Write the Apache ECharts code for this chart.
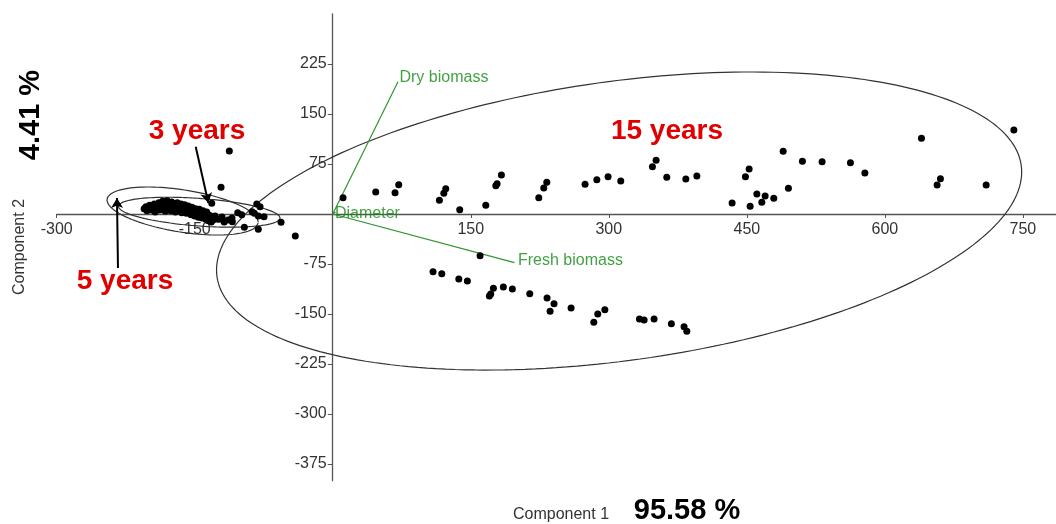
<!DOCTYPE html>
<html>
<head>
<meta charset="utf-8">
<script src="https://cdn.jsdelivr.net/npm/echarts@6/dist/echarts.min.js"></script>
<style>
html,body{margin:0;padding:0;background:#fff;}
#chart{width:1056px;height:524px;}
</style>
</head>
<body>
<div id="chart"></div>
<script>
// ---- tick labels ----
const xTicks = [-300, -150, 150, 300, 450, 600, 750];
const yTicks = [-375, -300, -225, -150, -75, 75, 150, 225];

// ---- scores: 3 and 5 year trees (dense cluster) ----
const youngScores = [
  [-205,8],[-203,11],[-202,5],[-200,9],[-199,13],[-197,6],[-196,11],[-194,15],[-193,3],[-192,9],
  [-190,13],[-189,17],[-188,6],[-187,11],[-185,19],[-184,15],[-183,8],[-182,4],[-181,12],[-180,20],
  [-179,16],[-178,9],[-177,13],[-176,5],[-175,18],[-174,11],[-173,15],[-172,7],[-171,3],[-170,13],
  [-169,17],[-168,9],[-167,5],[-166,12],[-165,15],[-164,2],[-163,8],[-162,11],[-161,14],[-160,5],
  [-159,1],[-158,9],[-157,12],[-156,4],[-155,7],[-154,-1],[-153,10],[-152,3],[-151,6],[-150,-3],
  [-149,8],[-148,1],[-147,4],[-146,-5],[-145,7],[-144,-1],[-143,2],[-142,-6],[-141,5],[-140,-3],
  [-139,0],[-138,-8],[-137,3],[-136,-5],[-135,-10],[-134,-2],[-133,-7],[-132,-12],[-131,-4],[-130,-9],
  [-131.5,16],[-127.9,-3],[-125.7,-7.5],[-123.6,-8],[-120.3,-4.5],[-118,-12],[-113.8,-9],[-109.5,-6],
  [-109.1,-11.5],[-103.3,2],[-98.9,-1],[-96.1,-20],[-121.4,40],[-112.4,94.5],
  [-82.6,15],[-79,11],[-87.7,3.5],[-85.2,1],[-80.9,-3],[-74.7,-4],[-80.9,-23],[-56.2,-12.5],[-40.7,-33]
];

// ---- scores: 15 year trees ----
const oldScores = [
  [11.2,24.5],[46.7,33],[67.7,32],[71.7,44],[115.9,20.5],[120.7,31],[122.8,38],[138,6.5],[166.3,13],
  [177.2,42.5],[178.6,45.5],[183.3,58.5],[223.9,24.5],[229.3,39],[232.6,47.5],[274.2,44.5],[287,51.5],
  [299.2,56],[313,49.5],[347.4,71],[351.4,80.5],[363,55],[383.7,52.5],[395.7,57],[434,16.5],[448.5,56],
  [452.5,67.5],[453.6,11.5],[460.9,30],[466.3,17.5],[469.9,27],[479.3,23.5],[489.5,94],[495.2,38.5],
  [510.4,79],[531.8,78.5],[562.6,77],[578.3,61.5],[639.8,113.5],[656.8,43.5],[660.4,53],[710.1,43.5],
  [740.2,126],
  [160.1,-62.5],[109,-86.5],[118.5,-89.5],[137,-97.5],[146.3,-100.5],[170.2,-123],[171.7,-120],
  [174.6,-111.5],[185.4,-109.5],[195.2,-112.5],[214.1,-119.5],[232.9,-126],[236.2,-146],[240.5,-134.5],
  [259,-141],[283.7,-162.5],[288,-150],[295.7,-143.5],[333.3,-157.5],[338.4,-159],[349.2,-157.5],
  [368,-164.5],[381.8,-169],[384.8,-176]
];

// ---- loadings (biplot vectors) ----
const loadingNames = ['Dry biomass', 'Fresh biomass', 'Diameter'];
const loadingX = [70.9, 197.5, 3];
const loadingY = [198.5, -73, 3];

// ---- group ellipses: centre x, centre y, x-radius, y-shear, y-radius ----
const ellipse15 = [311.2, -10.5, 437.5, 73.5, 211.1];
const ellipse5  = [-163.2, 4.5, 82.1, -16.5, 32.0];
const ellipse3  = [-145.1, 2.7, 87.9, -8.7, 20.7];

function ellipsePts(e) {
  const pts = [];
  const n = 240;
  for (let i = 0; i <= n; i++) {
    const t = 2 * Math.PI * i / n;
    pts.push([e[0] + e[2] * Math.cos(t), e[1] + e[3] * Math.cos(t) + e[4] * Math.sin(t)]);
  }
  return pts;
}

const FONT = '"Liberation Sans", Arial, sans-serif';
const GREEN_LINE = '#2f962f';
const GREEN_TEXT = '#138a13';
const RED = '#e00000';

// plot frame (pixels) and axis ranges
const GRID = {left: 56.7, right: 0, top: 14, bottom: 43.3};
const X_MIN = -300, X_MAX = 786, Y_MIN = -400, Y_MAX = 300;
const plotW = 1056 - GRID.left - GRID.right;
const plotH = 524 - GRID.top - GRID.bottom;
// shift axes so they cross at zero
const xAxisOffset = -plotH * (0 - Y_MIN) / (Y_MAX - Y_MIN);
const yAxisOffset = -plotW * (0 - X_MIN) / (X_MAX - X_MIN);

const chart = echarts.init(document.getElementById('chart'), null, {renderer: 'canvas'});

const ellipseSeries = [ellipse15, ellipse5, ellipse3].map(e => ({
  type: 'line',
  data: ellipsePts(e),
  showSymbol: false,
  symbol: 'none',
  smooth: false,
  silent: true,
  z: 2,
  lineStyle: {color: '#333', width: 1.2}
}));

const vectorSeries = loadingNames.map((n, i) => ({
  type: 'line',
  data: [[0, 0], [loadingX[i], loadingY[i]]],
  symbol: 'none',
  silent: true,
  z: 3,
  lineStyle: {color: GREEN_LINE, width: 1.2}
}));

const labelOffsets = [[-2, -4], [0, -2], [-4, 2]];

chart.setOption({
  animation: false,
  backgroundColor: '#fff',
  grid: {left: GRID.left, right: GRID.right, top: GRID.top, bottom: GRID.bottom, containLabel: false, outerBoundsMode: 'none'},
  xAxis: {
    type: 'value', min: X_MIN, max: X_MAX, position: 'bottom', offset: xAxisOffset,
    axisLine: {onZero: false, lineStyle: {color: '#555', width: 1.3}},
    axisTick: {show: true, length: 4, customValues: xTicks, lineStyle: {color: '#555'}},
    axisLabel: {customValues: xTicks, margin: 8, color: '#333', fontSize: 16, fontFamily: FONT},
    splitLine: {show: false}
  },
  yAxis: {
    type: 'value', min: Y_MIN, max: Y_MAX, position: 'left', offset: yAxisOffset,
    axisLine: {onZero: false, lineStyle: {color: '#555', width: 1.3}},
    axisTick: {show: true, length: 5, customValues: yTicks, lineStyle: {color: '#555'}},
    axisLabel: {customValues: yTicks, margin: 6, color: '#333', fontSize: 16, fontFamily: FONT},
    splitLine: {show: false}
  },
  series: [
    ...ellipseSeries,
    ...vectorSeries,
    {
      type: 'scatter',
      data: loadingNames.map((n, i) => ({
        value: [loadingX[i], loadingY[i]],
        label: {show: true, position: 'right', distance: 3, offset: labelOffsets[i], formatter: n}
      })),
      symbolSize: 1,
      itemStyle: {color: 'rgba(0,0,0,0)'},
      label: {color: GREEN_TEXT, fontSize: 16, fontFamily: FONT},
      silent: true,
      z: 4
    },
    {
      type: 'scatter', name: '3 and 5 years', data: youngScores, symbolSize: 7,
      itemStyle: {color: '#000', opacity: 1}, z: 5
    },
    {
      type: 'scatter', name: '15 years', data: oldScores, symbolSize: 7,
      itemStyle: {color: '#000', opacity: 1}, z: 5
    },
    {
      type: 'line', data: [], z: 6,
      markLine: {
        silent: true,
        symbol: ['none', 'arrow'],
        symbolSize: [9, 10],
        label: {show: false},
        lineStyle: {color: '#000', width: 2, type: 'solid'},
        data: [
          [{coord: [-148.9, 101]}, {coord: [-135.2, 16.5]}],
          [{coord: [-233.4, -81]}, {coord: [-234.5, 24]}]
        ]
      }
    }
  ],
  graphic: [
    {type: 'text', x: 197, y: 131, z: 10, style: {text: '3 years', x: 0, y: 0, align: 'center', verticalAlign: 'middle', font: 'bold 28px ' + FONT, fill: RED}},
    {type: 'text', x: 667, y: 131, z: 10, style: {text: '15 years', x: 0, y: 0, align: 'center', verticalAlign: 'middle', font: 'bold 28px ' + FONT, fill: RED}},
    {type: 'text', x: 125, y: 281, z: 10, style: {text: '5 years', x: 0, y: 0, align: 'center', verticalAlign: 'middle', font: 'bold 28px ' + FONT, fill: RED}},
    {type: 'text', x: 31, y: 115, rotation: Math.PI / 2, z: 10, style: {text: '4.41 %', x: 0, y: 0, align: 'center', verticalAlign: 'middle', font: 'bold 29px ' + FONT, fill: '#000'}},
    {type: 'text', x: 20, y: 247, rotation: Math.PI / 2, z: 10, style: {text: 'Component 2', x: 0, y: 0, align: 'center', verticalAlign: 'middle', font: '16px ' + FONT, fill: '#333'}},
    {type: 'text', x: 561, y: 515, z: 10, style: {text: 'Component 1', x: 0, y: 0, align: 'center', verticalAlign: 'middle', font: '16px ' + FONT, fill: '#333'}},
    {type: 'text', x: 687, y: 511, z: 10, style: {text: '95.58 %', x: 0, y: 0, align: 'center', verticalAlign: 'middle', font: 'bold 29px ' + FONT, fill: '#000'}}
  ]
});
</script>
</body>
</html>
